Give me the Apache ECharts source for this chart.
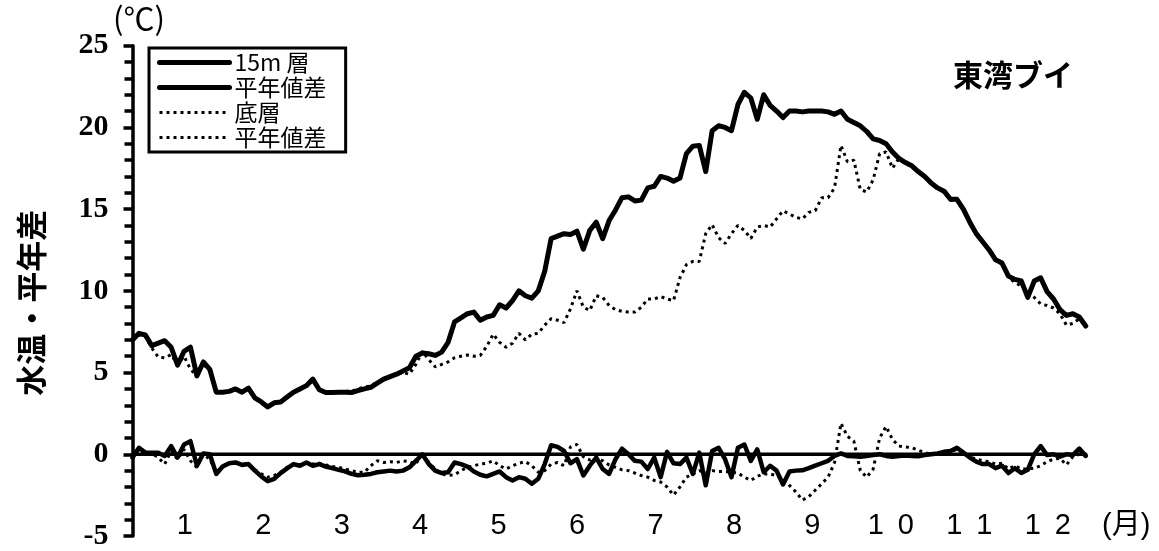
<!DOCTYPE html>
<html><head><meta charset="utf-8">
<script src="https://cdn.jsdelivr.net/npm/echarts@6/dist/echarts.min.js"></script>
<style>html,body{margin:0;padding:0;background:#fff}#c{width:1159px;height:551px}</style>
</head><body><div id="c"></div>
<script>
// Month tick labels (positions: label k at axis unit 3k-1)
const monthLabels = ['1','2','3','4','5','6','7','8','9','1 \u20090','1 \u20091','1 \u20092','(月)'];
const seriesNames = ['15m 層','平年値差','底層','平年値差 '];

// 15m layer water temperature (sampled along the year)
const temp15 = [
 7.0, 7.4, 7.3, 6.65, 6.8, 6.95, 6.55, 5.45, 6.3, 6.55,
 4.8, 5.65, 5.2, 3.8, 3.8, 3.85, 4.0, 3.8, 4.05, 3.45,
 3.2, 2.9, 3.15, 3.2, 3.5, 3.8, 4.0, 4.2, 4.6, 3.95,
 3.78, 3.78, 3.8, 3.8, 3.78, 3.9, 4.0, 4.1, 4.35, 4.6,
 4.75, 4.9, 5.1, 5.3, 6.0, 6.2, 6.15, 6.05, 6.25, 6.85,
 8.1, 8.35, 8.6, 8.7, 8.2, 8.4, 8.5, 9.15, 8.95, 9.4,
 10.0, 9.7, 9.55, 10.0, 11.2, 13.2, 13.35, 13.5, 13.45, 13.65,
 12.55, 13.7, 14.2, 13.2, 14.3, 14.95, 15.7, 15.75, 15.5, 15.55,
 16.3, 16.4, 17.0, 16.9, 16.7, 16.9, 18.4, 18.85, 18.9, 17.3,
 19.8, 20.1, 20.0, 19.8, 21.4, 22.15, 21.8, 20.5, 22.0, 21.35,
 21.0, 20.6, 21.0, 21.0, 20.95, 21.0, 21.0, 21.0, 20.95, 20.8,
 21.0, 20.5, 20.3, 20.1, 19.75, 19.3, 19.2, 19.0, 18.5, 18.1,
 17.85, 17.65, 17.3, 17.0, 16.6, 16.3, 16.1, 15.6, 15.6, 15.0,
 14.2, 13.5, 13.0, 12.5, 11.9, 11.7, 10.9, 10.7, 10.6, 9.6,
 10.6, 10.8, 9.95, 9.5, 8.85, 8.5, 8.6, 8.4, 7.85
];
// 15m layer anomaly (difference from normal)
const anom15 = [
 -0.2, 0.4, 0.1, 0.1, 0.1, -0.1, 0.5, -0.2, 0.6, 0.8,
 -0.7, 0.05, 0.0, -1.2, -0.75, -0.55, -0.5, -0.65, -0.6, -1.0,
 -1.35, -1.65, -1.5, -1.15, -0.86, -0.6, -0.7, -0.5, -0.7, -0.6,
 -0.75, -0.85, -0.95, -1.05, -1.2, -1.28, -1.25, -1.2, -1.1, -1.05,
 -1.0, -1.05, -1.0, -0.8, -0.4, 0.0, -0.6, -1.0, -1.15, -1.1,
 -0.5, -0.6, -0.75, -1.05, -1.25, -1.35, -1.2, -1.05, -1.4, -1.6,
 -1.4, -1.5, -1.8, -1.5, -0.6, 0.55, 0.45, 0.2, -0.55, -0.3,
 -1.3, -0.7, -0.2, -0.9, -1.2, -0.3, 0.35, 0.0, -0.4, -0.45,
 -0.9, -0.2, -1.4, 0.15, -0.55, -0.6, -0.2, -1.2, 0.1, -1.9,
 0.2, 0.4, -0.3, -1.4, 0.4, 0.6, -0.4, 0.3, -1.1, -0.7,
 -1.0, -1.85, -1.05, -1.0, -0.98, -0.85, -0.7, -0.55, -0.4, -0.1,
 0.05, -0.1, -0.12, -0.15, -0.1, -0.05, 0.0, -0.1, -0.15, -0.1,
 -0.08, -0.1, -0.12, -0.05, 0.0, 0.05, 0.15, 0.2, 0.4, 0.1,
 -0.2, -0.45, -0.6, -0.6, -0.85, -0.7, -1.15, -0.85, -1.15, -0.95,
 0.0, 0.5, -0.05, 0.0, -0.15, 0.0, -0.05, 0.35, -0.1
];
// Bottom layer water temperature
const tempBot = [
 7.0, 7.3, 7.2, 6.5, 5.95, 5.9, 6.1, 5.5, 6.0, 5.2,
 4.8, 5.5, 5.1, 3.8, 3.8, 3.85, 4.0, 3.8, 4.0, 3.5,
 3.2, 2.95, 3.15, 3.2, 3.5, 3.8, 4.0, 4.2, 4.5, 3.95,
 3.8, 3.8, 3.8, 3.85, 3.85, 4.0, 4.1, 4.2, 4.4, 4.6,
 4.8, 4.9, 5.0, 4.9, 5.5, 6.3, 5.8, 5.35, 5.5, 5.65,
 5.9, 6.0, 6.07, 6.0, 6.05, 6.6, 7.35, 6.85, 6.55, 6.8,
 7.4, 7.0, 7.35, 7.4, 7.9, 8.3, 8.2, 8.05, 8.9, 10.0,
 9.0, 8.8, 9.7, 9.6, 9.1, 8.85, 8.75, 8.7, 8.7, 9.0,
 9.5, 9.5, 9.65, 9.5, 9.4, 10.8, 11.6, 11.8, 11.8, 13.5,
 14.05, 13.25, 12.9, 13.5, 14.0, 13.7, 13.2, 13.9, 14.0, 13.9,
 14.4, 14.9, 14.7, 14.5, 14.4, 14.8, 14.9, 15.7, 15.7, 16.3,
 18.9, 17.9, 18.0, 16.2, 16.05, 16.8, 18.4, 18.5, 17.5, 18.1,
 17.8, 17.6, 17.25, 16.95, 16.55, 16.25, 16.05, 15.55, 15.55, 14.95,
 14.15, 13.45, 12.95, 12.45, 11.85, 11.65, 10.85, 10.5, 10.3, 9.9,
 9.6, 9.2, 9.1, 8.95, 8.6, 7.9, 8.0, 8.3, 7.9
];
// Bottom layer anomaly
const anomBot = [
 -0.2, 0.3, 0.0, 0.05, -0.2, -0.6, 0.2, -0.3, 0.3, -0.4,
 -0.8, 0.0, -0.3, -1.1, -0.75, -0.55, -0.5, -0.6, -0.6, -0.95,
 -1.2, -1.4, -1.3, -1.1, -0.8, -0.6, -0.65, -0.5, -0.6, -0.55,
 -0.65, -0.75, -0.8, -0.9, -1.0, -1.1, -1.1, -0.7, -0.4, -0.5,
 -0.45, -0.5, -0.4, -0.45, -0.6, 0.1, -0.5, -0.9, -1.2, -1.3,
 -1.25, -1.0, -0.8, -0.7, -0.6, -0.55, -0.4, -0.7, -0.9, -0.7,
 -0.55, -0.45, -0.7, -1.1, -1.0, -0.6, -0.5, -0.7, 0.45, 0.6,
 -0.15, -0.35, -0.2, -0.4, -0.65, -0.8, -0.95, -1.0, -1.15, -1.3,
 -1.4, -1.6, -1.7, -2.0, -2.5, -2.0, -1.4, -1.2, -1.0, -1.15,
 -1.0, -1.05, -1.05, -1.1, -1.15, -1.4, -1.6, -1.35, -1.2, -1.2,
 -1.3, -1.5, -1.9, -2.3, -2.8, -2.6, -2.2, -1.8, -1.4, -0.5,
 1.9, 1.1, 0.8, -1.0, -1.4, -0.9, 1.0, 1.7, 0.9, 0.5,
 0.45, 0.4, 0.25, 0.1, 0.0, 0.05, 0.1, 0.15, 0.3, 0.05,
 -0.15, -0.3, -0.4, -0.45, -0.6, -0.55, -0.9, -0.7, -0.9, -0.9,
 -0.85, -0.7, -0.45, -0.3, -0.25, -0.65, -0.15, 0.0, -0.1
];

const STEP = 0.2463; // sampling step in axis units (1 unit = 1/3 month)
const pairs = arr => arr.map((v, i) => [i * STEP, v]);
const lastX = (temp15.length - 1) * STEP;

const solid = w => ({color: '#000', width: w, join: 'round', cap: 'round'});
const dotted = {color: '#000', width: 3, type: [3, 4], cap: 'butt'};
const hiddenSymbol = {color: 'rgba(0,0,0,0)', borderWidth: 0, opacity: 0};

const chart = echarts.init(document.getElementById('c'), null, {renderer: 'canvas'});
chart.setOption({
  animation: false,
  backgroundColor: '#fff',
  title: [{
    text: '東湾ブイ', left: 948, top: 55,
    textStyle: {fontSize: 30, fontWeight: 'bold', color: '#000', fontFamily: 'Noto Sans CJK JP'}
  }, {
    text: '(℃)', left: 113, top: 3, padding: 0,
    textStyle: {fontSize: 31, fontWeight: 'normal', color: '#000', fontFamily: 'Noto Sans CJK JP'}
  }],
  grid: {left: 132.5, top: 45.7, width: 1019.85, height: 498, containLabel: false},
  legend: {
    data: [
      {name: seriesNames[0], lineStyle: solid(5), itemStyle: hiddenSymbol},
      {name: seriesNames[1], lineStyle: solid(5), itemStyle: hiddenSymbol},
      {name: seriesNames[2], lineStyle: dotted, itemStyle: hiddenSymbol},
      {name: seriesNames[3], lineStyle: dotted, itemStyle: hiddenSymbol}
    ],
    orient: 'vertical', left: 149, top: 48,
    itemWidth: 70, itemHeight: 18, itemGap: 2, selectedMode: false,
    padding: [3, 14, 3, 8], borderColor: '#000', borderWidth: 3, backgroundColor: '#fff',
    textStyle: {fontSize: 23, color: '#000', fontFamily: 'Noto Sans CJK JP'}
  },
  xAxis: {
    type: 'value', min: 0, max: 39, interval: 1,
    axisLine: {show: false}, axisTick: {show: false}, splitLine: {show: false},
    axisLabel: {
      inside: true, margin: -4, color: '#000', fontSize: 29,
      fontFamily: 'Liberation Sans, Noto Sans CJK JP',
      formatter: v => { const k = (v + 1) / 3; return (Number.isInteger(k) && k >= 1 && k <= 13) ? monthLabels[k - 1] : ''; }
    }
  },
  yAxis: {
    type: 'value', min: -5, max: 25, interval: 5,
    name: '水温・平年差', nameLocation: 'middle', nameGap: 86,
    nameTextStyle: {fontSize: 31, fontWeight: 'bold', color: '#000', fontFamily: 'Noto Sans CJK JP', padding: [0, 24, 0, 0]},
    axisLine: {show: true, lineStyle: {color: '#000', width: 3.5}},
    axisTick: {show: true, length: 9, lineStyle: {color: '#000', width: 3.5}},
    minorTick: {show: true, splitNumber: 5, length: 8, lineStyle: {color: '#000', width: 3.5}},
    splitLine: {show: false}, minorSplitLine: {show: false},
    axisLabel: {color: '#000', fontSize: 30, fontWeight: 'bold', fontFamily: 'Liberation Serif', margin: 24}
  },
  series: [
    {type: 'line', data: [[0, 0], [lastX, 0]], symbol: 'none', silent: true, z: 1, lineStyle: solid(3.5)},
    {name: seriesNames[2], type: 'line', data: pairs(tempBot), symbol: 'none', z: 2, itemStyle: {color: '#000'}, lineStyle: dotted},
    {name: seriesNames[3], type: 'line', data: pairs(anomBot), symbol: 'none', z: 2, itemStyle: {color: '#000'}, lineStyle: dotted},
    {name: seriesNames[0], type: 'line', data: pairs(temp15), symbol: 'none', z: 3, itemStyle: {color: '#000'}, lineStyle: solid(5)},
    {name: seriesNames[1], type: 'line', data: pairs(anom15), symbol: 'none', z: 3, itemStyle: {color: '#000'}, lineStyle: solid(4.5)}
  ]
});
</script></body></html>
